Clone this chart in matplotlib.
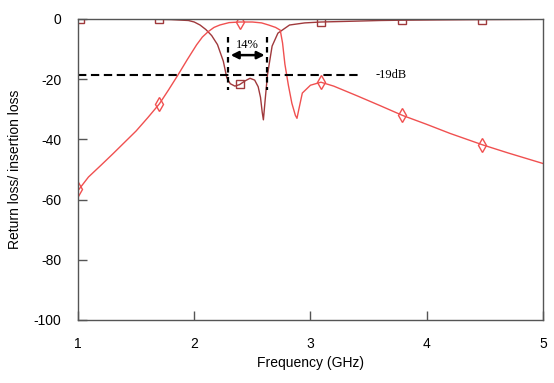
import matplotlib
matplotlib.use("Agg")
import matplotlib.pyplot as plt

# Insertion/return loss curve 1 (dark red, square markers)
s1_freq = [1.0, 1.5, 1.8, 1.95, 2.0, 2.05, 2.1, 2.15, 2.2, 2.25, 2.28, 2.31, 2.35, 2.39, 2.44,
           2.48, 2.52, 2.55, 2.57, 2.585, 2.595, 2.61, 2.63, 2.67, 2.72, 2.82, 2.95, 3.09,
           3.3, 3.6, 3.79, 4.1, 4.48, 4.8, 5.0]
s1_db = [0.0, 0.0, -0.2, -0.5, -1.0, -2.0, -3.5, -5.5, -8.5, -14.0, -19.5, -21.5, -22.3, -21.8, -20.5,
         -19.7, -20.3, -22.5, -26.0, -31.0, -33.5, -27.0, -18.6, -9.0, -4.7, -2.0, -1.3, -1.0,
         -0.8, -0.5, -0.4, -0.3, -0.2, -0.15, -0.1]
s1_mark_freq = [1.02, 1.70, 2.39, 3.09, 3.79, 4.48]
s1_mark_db = [0.0, 0.0, -21.6, -1.0, -0.4, -0.2]

# Curve 2 (light red, diamond markers)
s2_freq = [1.0, 1.04, 1.09, 1.2, 1.3, 1.4, 1.5, 1.6, 1.7, 1.78, 1.86, 1.94, 2.02, 2.07, 2.12,
           2.17, 2.22, 2.3, 2.39, 2.5, 2.58, 2.64, 2.7, 2.74, 2.76, 2.78, 2.81, 2.84, 2.87,
           2.884, 2.9, 2.93, 3.0, 3.09, 3.2, 3.4, 3.6, 3.79, 4.0, 4.2, 4.48, 4.7, 5.0]
s2_db = [-57.0, -55.0, -52.5, -48.5, -44.8, -41.0, -37.2, -32.8, -28.2, -23.5, -18.6, -13.5, -8.6, -6.0, -4.2,
         -2.8, -2.0, -1.2, -1.0, -1.0, -1.3, -2.0, -2.8, -3.7, -8.0, -15.0, -22.0, -28.0, -32.0,
         -33.0, -30.0, -24.6, -22.0, -21.0, -22.3, -25.5, -28.8, -32.0, -35.0, -38.0, -41.8, -44.5, -48.0]
s2_mark_freq = [1.0, 1.70, 2.39, 3.09, 3.79, 4.48]
s2_mark_db = [-56.5, -28.2, -1.0, -21.0, -32.0, -41.8]

x_ticks = [1, 2, 3, 4, 5]
y_ticks = [0, -20, -40, -60, -80, -100]

ref_level = -18.6
band_edges = [2.29, 2.63]

plt.rcParams['font.family'] = ['Liberation Sans', 'DejaVu Sans']

fig = plt.figure(figsize=(5.54, 3.83), dpi=100)
ax = fig.add_axes([0.1408, 0.1645, 0.8392, 0.7859])

c1 = '#a0393c'
c2 = '#f05050'
ax.plot(s1_freq, s1_db, color=c1, lw=1.0)
ax.plot(s1_mark_freq, s1_mark_db, ls='none', marker='s', ms=6, mfc='none', mec=c1, mew=1.0)
ax.plot(s2_freq, s2_db, color=c2, lw=1.0)
ax.plot(s2_mark_freq, s2_mark_db, ls='none', marker='d', ms=7, mfc='none', mec=c2, mew=1.0)

# annotations
ax.plot([1.0, 3.44], [ref_level, ref_level], color='black', lw=1.5, ls=(0, (4, 2.2)))
ax.text(3.56, ref_level, '-19dB', family=['Liberation Serif'], fontsize=9, va='center', ha='left')
for bx in band_edges:
    ax.plot([bx, bx], [-6, -23.6], color='black', lw=1.6, ls=(0, (2.5, 2)))
ax.annotate('', xy=(band_edges[0], -12), xytext=(band_edges[1], -12),
            arrowprops=dict(arrowstyle='<|-|>', color='black', lw=1.8, mutation_scale=11))
ax.text(sum(band_edges) / 2, -8.8, '14%', family=['Liberation Serif'], fontsize=9,
        ha='center', va='center')

ax.set_xlim(1, 5)
ax.set_ylim(-100, 0)
ax.set_xticks(x_ticks)
ax.set_yticks(y_ticks)
ax.set_xticklabels([str(t) for t in x_ticks])
ax.set_yticklabels([str(t) for t in y_ticks])
ax.tick_params(axis='x', direction='in', length=6.5, width=1, color='#555555', pad=12, labelsize=10)
ax.tick_params(axis='y', direction='in', length=6.5, width=1, color='#555555', pad=12, labelsize=10)
for s in ax.spines.values():
    s.set_color('#555555')
    s.set_linewidth(1.0)

ax.set_xlabel('Frequency (GHz)', fontsize=10, labelpad=4)
ax.set_ylabel('Return loss/ insertion loss', fontsize=10, labelpad=8)

fig.savefig('out.png', dpi=100)
